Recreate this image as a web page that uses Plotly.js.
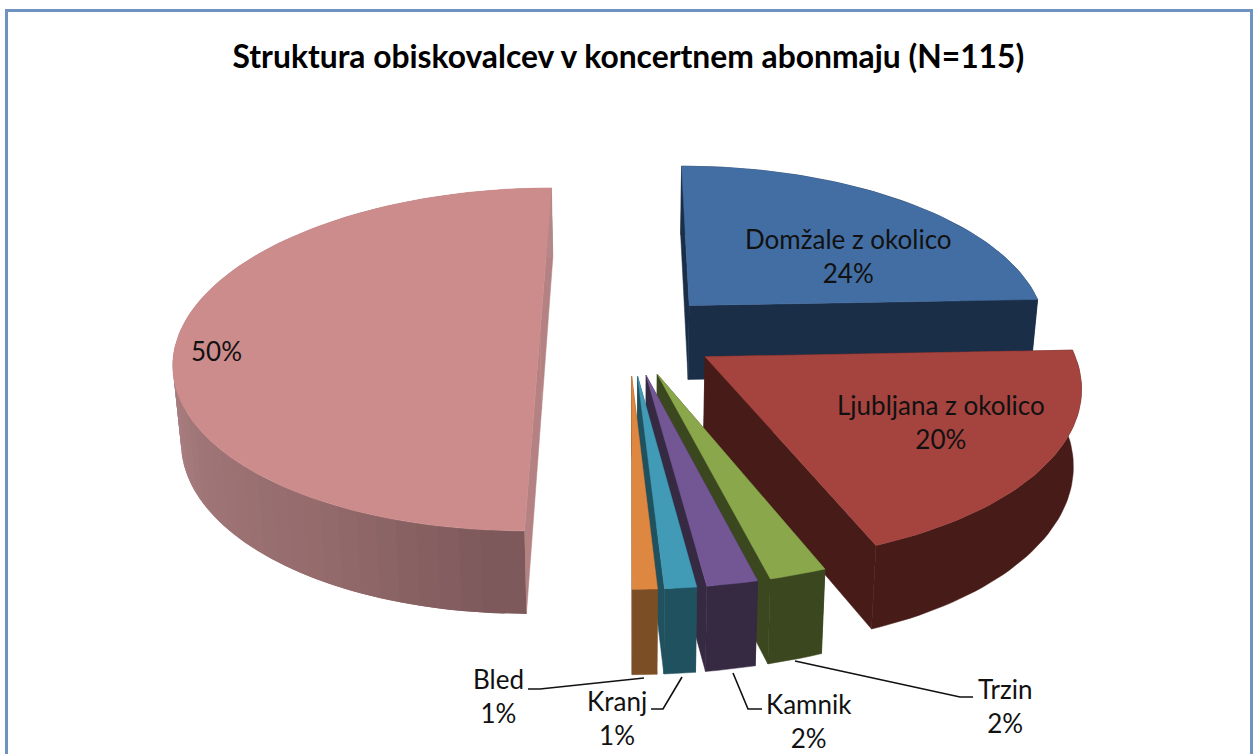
<!DOCTYPE html>
<html><head><meta charset="utf-8">
<script src="https://cdn.plot.ly/plotly-3.0.1.min.js"></script>
<style>html,body{margin:0;padding:0;background:#fff}#c{width:1253px;height:754px}</style>
</head><body><div id="c"></div>
<script>
// ---- data (clockwise from 12 o'clock, percent) ----
const categories = ['Domžale z okolico','Ljubljana z okolico','Trzin','Kamnik','Kranj','Bled',''];
const values = [24.4,19.6,2.1,1.85,1.15,0.9,50];

// ---- styles ----
const topColors  = ['#436ea3','#a5433f','#8aa74c','#735795','#419bb7','#de8741','#cd8c8c'];
const wallColors = ['#1b2e48','#471c18','#3b471f','#362942','#20515f','#7b4e25','#b58283'];
const labelX = [848,941,1005,809,617,498,216];
const labelY = [256,422,705.5,720.5,718,696,351];
const drawOrder = [6,0,1,2,3,4,5];
const widthU = [360,363,367,367,367,367,361];

// ---- 3D view of the pie (perspective on the top plane) ----
const view = {vx:629, yh:-800, K:1134, p:0.000403, R:367, explode:89, sink:0.018, d0:74, dy:0.04};
const leaders = [
  'M528,689 L540,689 L644,678',
  'M651,709 L663,709 L682,677',
  'M762,709 L748,709 L733,673',
  'M973,697 L960,697 L795,661'
];

function project(u,v){const s=1/(1+view.p*v);return [view.vx+u*s, view.yh+view.K*s];}
function drop(pt){return [view.vx+(pt[0]-view.vx)*(1-view.sink), pt[1]+view.d0+(pt[1]-304)*view.dy];}
function rad(d){return d*Math.PI/180;}

const total = values.reduce((a,b)=>a+b,0);
let acc = 0;
const slices = values.map((val,i)=>{
  const a0 = acc/total*360; acc += val; const a1 = acc/total*360;
  const mid = rad((a0+a1)/2);
  const ou = view.explode*Math.sin(mid), ov = view.explode*Math.cos(mid);
  const at = t=>project(ou+widthU[i]*Math.sin(rad(t)), ov+view.R*Math.cos(rad(t)));
  return {i,a0,a1,apex:project(ou,ov),at};
});

const traces = [];
function poly(pts,color,lw){
  traces.push({type:'scatter',mode:'lines',x:pts.map(p=>p[0]).concat([pts[0][0]]),y:pts.map(p=>p[1]).concat([pts[0][1]]),
    fill:'toself',fillcolor:color,line:{color:color,width:lw===undefined?0.5:lw},hoverinfo:'skip',showlegend:false});
}
function mix(c1,c2,t){const h=c=>[1,3,5].map(k=>parseInt(c.substr(k,2),16));const a=h(c1),b=h(c2);
  return 'rgb('+a.map((v,k)=>Math.round(v+(b[k]-v)*t)).join(',')+')';}
function pinkWall(t){ // t in degrees, 180 (front) to 360
  if(t<205) return mix('#7c585a','#936a6b',(t-180)/25);
  if(t<235) return mix('#936a6b','#a07577',(t-205)/30);
  return mix('#a07577','#b48888',Math.min(1,(t-235)/35));
}

drawOrder.forEach(idx=>{
  const s = slices[idx];
  const n = Math.max(4,Math.round((s.a1-s.a0)/1.5));
  const arc = [];
  for(let k=0;k<=n;k++) arc.push(s.at(s.a0+(s.a1-s.a0)*k/n));
  // radial walls
  poly([s.apex,arc[0],drop(arc[0]),drop(s.apex)],wallColors[idx]);
  poly([s.apex,arc[n],drop(arc[n]),drop(s.apex)],wallColors[idx]);
  // outer wall
  if(idx===6){
    // shaded strips, each one overlapping the next so no seam shows (back to front)
    for(let k=n-2;k>=0;k-=2){
      const t=s.a0+(s.a1-s.a0)*(k+1)/n;
      const end=Math.min(n,k+4);
      const band=arc.slice(k,end+1);
      poly(band.concat(band.map(drop).reverse()),pinkWall(t),0);
    }
  } else {
    poly(arc.concat(arc.map(drop).reverse()),wallColors[idx]);
  }
  // top face
  poly([s.apex].concat(arc),topColors[idx]);
});

const font = {family:'Lato, Carlito, sans-serif',size:26,color:'#111'};
const annotations = values.map((val,i)=>({
  x:labelX[i],y:labelY[i],xref:'x',yref:'y',showarrow:false,xanchor:'center',yanchor:'middle',borderpad:0,
  text:(categories[i]?categories[i]+'<br>':'')+Math.round(val)+'%',font:font
}));

const layout = {
  width:1253,height:754,margin:{l:0,r:0,t:0,b:0},paper_bgcolor:'#fff',plot_bgcolor:'#fff',showlegend:false,
  title:{text:'<b>Struktura obiskovalcev v koncertnem abonmaju (N=115)</b>',x:0.5015,xanchor:'center',y:0.924,yanchor:'middle',
    font:{family:'Lato, Carlito, sans-serif',size:31.8,color:'#000'}},
  xaxis:{range:[0,1253],visible:false,fixedrange:true},
  yaxis:{range:[754,0],visible:false,fixedrange:true},
  annotations:annotations,
  shapes:[{type:'rect',xref:'x',yref:'y',x0:6.5,y0:10.5,x1:1251.5,y1:770,line:{color:'#6f93c1',width:3},layer:'below'}]
    .concat(leaders.map(p=>({type:'path',xref:'x',yref:'y',path:p,line:{color:'#111',width:1.6}})))
};
Plotly.newPlot('c',traces,layout,{displayModeBar:false,staticPlot:true});
</script></body></html>
